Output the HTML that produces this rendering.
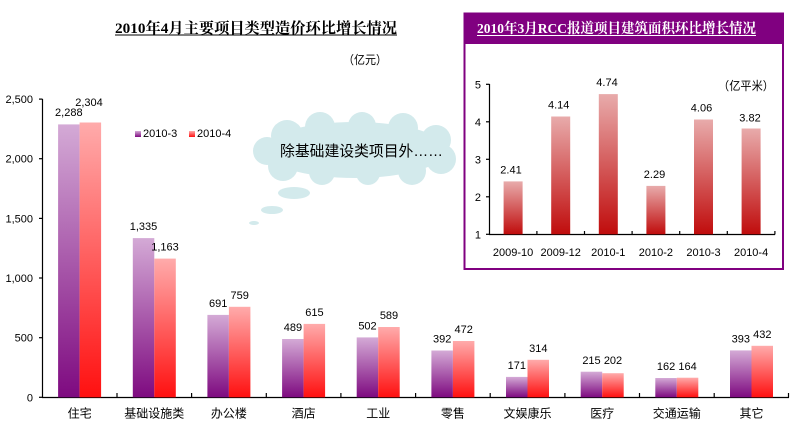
<!DOCTYPE html>
<html><head><meta charset="utf-8"><style>
html,body{margin:0;padding:0;background:#fff;width:796px;height:428px;overflow:hidden}
svg{display:block}
.n{font-family:"Liberation Sans",Arial,sans-serif;font-size:11px;fill:#000}
.c{font-family:"Liberation Sans","Noto Sans CJK SC",sans-serif;font-size:12px;fill:#000}
</style></head><body>
<svg width="796" height="428" viewBox="0 0 796 428" xmlns="http://www.w3.org/2000/svg">
<defs>
<linearGradient id="gp" x1="0" y1="0" x2="0" y2="1"><stop offset="0" stop-color="#d4aad6"/><stop offset="1" stop-color="#7e0a80"/></linearGradient>
<linearGradient id="gr" x1="0" y1="0" x2="0" y2="1"><stop offset="0" stop-color="#ffabab"/><stop offset="1" stop-color="#ff1010"/></linearGradient>
<linearGradient id="gi" x1="0" y1="0" x2="0" y2="1"><stop offset="0" stop-color="#e8abab"/><stop offset="1" stop-color="#c00c0c"/></linearGradient>
</defs>

<!-- main title -->
<text x="115" y="33" font-family="'Liberation Serif','Noto Serif CJK SC',serif" font-size="15" font-weight="bold" textLength="282" lengthAdjust="spacingAndGlyphs">2010年4月主要项目类型造价环比增长情况</text>
<line x1="115" y1="35" x2="397" y2="35" stroke="#000" stroke-width="1"/>
<text class="c" x="343" y="64" textLength="44" lengthAdjust="spacingAndGlyphs">（亿元）</text>

<!-- cloud -->
<g fill="#d3eaec">
<ellipse cx="355" cy="150" rx="92" ry="28"/>
<circle cx="287" cy="136" r="16"/>
<circle cx="320" cy="127" r="15"/>
<circle cx="362" cy="126" r="14"/>
<circle cx="403" cy="128" r="15"/>
<circle cx="436" cy="140" r="15"/>
<circle cx="441" cy="159" r="15"/>
<circle cx="412" cy="171" r="14"/>
<circle cx="368" cy="173" r="12"/>
<circle cx="322" cy="172" r="13"/>
<circle cx="283" cy="166" r="15"/>
<circle cx="267" cy="151" r="14"/>
<ellipse cx="294" cy="193" rx="16" ry="6"/>
<ellipse cx="272" cy="210" rx="11" ry="4"/>
<ellipse cx="254" cy="223" rx="5" ry="2"/>
</g>
<text x="280" y="156" font-family="'Liberation Sans','Noto Sans CJK SC',sans-serif" font-size="15" textLength="163" lengthAdjust="spacingAndGlyphs">除基础建设类项目外……</text>

<!-- legend -->
<rect x="135" y="131" width="6" height="6" fill="url(#gp)"/>
<text class="n" x="143" y="137">2010-3</text>
<rect x="189" y="131" width="6" height="6" fill="url(#gr)"/>
<text class="n" x="197" y="137">2010-4</text>

<!-- main axes -->
<g stroke="#000" stroke-width="1.2">
<line x1="42.5" y1="99" x2="42.5" y2="397.5"/>
<line x1="42" y1="397.5" x2="789" y2="397.5"/>
<line x1="39" y1="99.1" x2="42.5" y2="99.1"/>
<line x1="39" y1="158.7" x2="42.5" y2="158.7"/>
<line x1="39" y1="218.4" x2="42.5" y2="218.4"/>
<line x1="39" y1="278" x2="42.5" y2="278"/>
<line x1="39" y1="337.7" x2="42.5" y2="337.7"/>
<line x1="39" y1="397.3" x2="42.5" y2="397.3"/>
<line x1="117" y1="393" x2="117" y2="397.5"/>
<line x1="191.6" y1="393" x2="191.6" y2="397.5"/>
<line x1="266.3" y1="393" x2="266.3" y2="397.5"/>
<line x1="340.9" y1="393" x2="340.9" y2="397.5"/>
<line x1="415.6" y1="393" x2="415.6" y2="397.5"/>
<line x1="490.2" y1="393" x2="490.2" y2="397.5"/>
<line x1="564.9" y1="393" x2="564.9" y2="397.5"/>
<line x1="639.5" y1="393" x2="639.5" y2="397.5"/>
<line x1="714.2" y1="393" x2="714.2" y2="397.5"/>
<line x1="788.5" y1="393" x2="788.5" y2="397.5"/>
</g>
<g class="n" text-anchor="end">
<text x="33" y="103">2,500</text>
<text x="33" y="162.7">2,000</text>
<text x="33" y="222.4">1,500</text>
<text x="33" y="282">1,000</text>
<text x="33" y="341.7">500</text>
<text x="33" y="401.3">0</text>
</g>

<!-- main bars -->
<g>
<rect x="58.1" y="124.4" width="21.5" height="272.9" fill="url(#gp)"/>
<rect x="79.6" y="122.5" width="21.5" height="274.8" fill="url(#gr)"/>
<rect x="132.8" y="238.1" width="21.5" height="159.2" fill="url(#gp)"/>
<rect x="154.3" y="258.6" width="21.5" height="138.7" fill="url(#gr)"/>
<rect x="207.4" y="314.9" width="21.5" height="82.4" fill="url(#gp)"/>
<rect x="228.9" y="306.8" width="21.5" height="90.5" fill="url(#gr)"/>
<rect x="282.1" y="339" width="21.5" height="58.3" fill="url(#gp)"/>
<rect x="303.6" y="323.9" width="21.5" height="73.4" fill="url(#gr)"/>
<rect x="356.7" y="337.4" width="21.5" height="59.9" fill="url(#gp)"/>
<rect x="378.2" y="327" width="21.5" height="70.3" fill="url(#gr)"/>
<rect x="431.4" y="350.5" width="21.5" height="46.8" fill="url(#gp)"/>
<rect x="452.9" y="341" width="21.5" height="56.3" fill="url(#gr)"/>
<rect x="506" y="376.9" width="21.5" height="20.4" fill="url(#gp)"/>
<rect x="527.5" y="359.8" width="21.5" height="37.5" fill="url(#gr)"/>
<rect x="580.7" y="371.7" width="21.5" height="25.6" fill="url(#gp)"/>
<rect x="602.2" y="373.2" width="21.5" height="24.1" fill="url(#gr)"/>
<rect x="655.3" y="378" width="21.5" height="19.3" fill="url(#gp)"/>
<rect x="676.8" y="377.7" width="21.5" height="19.6" fill="url(#gr)"/>
<rect x="730" y="350.4" width="21.5" height="46.9" fill="url(#gp)"/>
<rect x="751.5" y="345.8" width="21.5" height="51.5" fill="url(#gr)"/>
</g>
<g class="n" text-anchor="middle">
<text x="68.8" y="116">2,288</text>
<text x="89" y="106">2,304</text>
<text x="143.5" y="230">1,335</text>
<text x="165" y="250.6">1,163</text>
<text x="218.2" y="306.9">691</text>
<text x="239.7" y="298.8">759</text>
<text x="292.9" y="331">489</text>
<text x="314.4" y="315.9">615</text>
<text x="367.5" y="329.4">502</text>
<text x="389" y="319">589</text>
<text x="442.2" y="342.5">392</text>
<text x="463.7" y="333">472</text>
<text x="516.8" y="368.9">171</text>
<text x="538.3" y="351.8">314</text>
<text x="591.5" y="364">215</text>
<text x="613" y="364">202</text>
<text x="666.1" y="370">162</text>
<text x="687.6" y="370">164</text>
<text x="740.8" y="342.4">393</text>
<text x="762.3" y="338">432</text>
</g>
<g class="c" text-anchor="middle">
<text x="79.6" y="417.5">住宅</text>
<text x="154.3" y="417.5">基础设施类</text>
<text x="228.9" y="417.5">办公楼</text>
<text x="303.6" y="417.5">酒店</text>
<text x="378.2" y="417.5">工业</text>
<text x="452.9" y="417.5">零售</text>
<text x="527.5" y="417.5">文娱康乐</text>
<text x="602.2" y="417.5">医疗</text>
<text x="676.8" y="417.5">交通运输</text>
<text x="751.5" y="417.5">其它</text>
</g>

<!-- inset panel -->
<rect x="464.5" y="13.5" width="318.5" height="255.5" fill="#fff" stroke="#800080" stroke-width="2"/>
<rect x="464.5" y="13.5" width="318.5" height="30.5" fill="#800080"/>
<text x="477" y="33" fill="#fff" font-family="'Liberation Serif','Noto Serif CJK SC',serif" font-size="14" font-weight="bold" textLength="279" lengthAdjust="spacingAndGlyphs">2010年3月RCC报道项目建筑面积环比增长情况</text>
<line x1="477" y1="35.5" x2="756" y2="35.5" stroke="#fff" stroke-width="1"/>
<text class="c" x="718" y="90" textLength="56" lengthAdjust="spacingAndGlyphs">（亿平米）</text>

<g stroke="#000" stroke-width="1.2">
<line x1="489.5" y1="84" x2="489.5" y2="234.5"/>
<line x1="489" y1="234.5" x2="775" y2="234.5"/>
<line x1="486" y1="84.3" x2="489.5" y2="84.3"/>
<line x1="486" y1="121.8" x2="489.5" y2="121.8"/>
<line x1="486" y1="159.3" x2="489.5" y2="159.3"/>
<line x1="486" y1="196.8" x2="489.5" y2="196.8"/>
<line x1="486" y1="234.3" x2="489.5" y2="234.3"/>
<line x1="536.9" y1="231" x2="536.9" y2="234.5"/>
<line x1="584.5" y1="231" x2="584.5" y2="234.5"/>
<line x1="632.1" y1="231" x2="632.1" y2="234.5"/>
<line x1="679.7" y1="231" x2="679.7" y2="234.5"/>
<line x1="727.3" y1="231" x2="727.3" y2="234.5"/>
<line x1="774.9" y1="231" x2="774.9" y2="234.5"/>
</g>
<g class="n" text-anchor="end">
<text x="481" y="88.3">5</text>
<text x="481" y="125.8">4</text>
<text x="481" y="163.3">3</text>
<text x="481" y="200.8">2</text>
<text x="481" y="238.3">1</text>
</g>
<g>
<rect x="503.6" y="181.4" width="19" height="52.9" fill="url(#gi)"/>
<rect x="551.2" y="116.5" width="19" height="117.8" fill="url(#gi)"/>
<rect x="598.8" y="94.1" width="19" height="140.2" fill="url(#gi)"/>
<rect x="646.4" y="185.9" width="19" height="48.4" fill="url(#gi)"/>
<rect x="694" y="119.5" width="19" height="114.8" fill="url(#gi)"/>
<rect x="741.6" y="128.5" width="19" height="105.8" fill="url(#gi)"/>
</g>
<g class="n" text-anchor="middle">
<text x="511" y="173.4">2.41</text>
<text x="558.7" y="108.5">4.14</text>
<text x="607" y="86.1">4.74</text>
<text x="654.5" y="177.9">2.29</text>
<text x="701.5" y="111.5">4.06</text>
<text x="750" y="121.5">3.82</text>
</g>
<g class="n" text-anchor="middle">
<text x="513.1" y="256">2009-10</text>
<text x="560.7" y="256">2009-12</text>
<text x="608.3" y="256">2010-1</text>
<text x="655.9" y="256">2010-2</text>
<text x="703.5" y="256">2010-3</text>
<text x="751.1" y="256">2010-4</text>
</g>
</svg>
</body></html>
